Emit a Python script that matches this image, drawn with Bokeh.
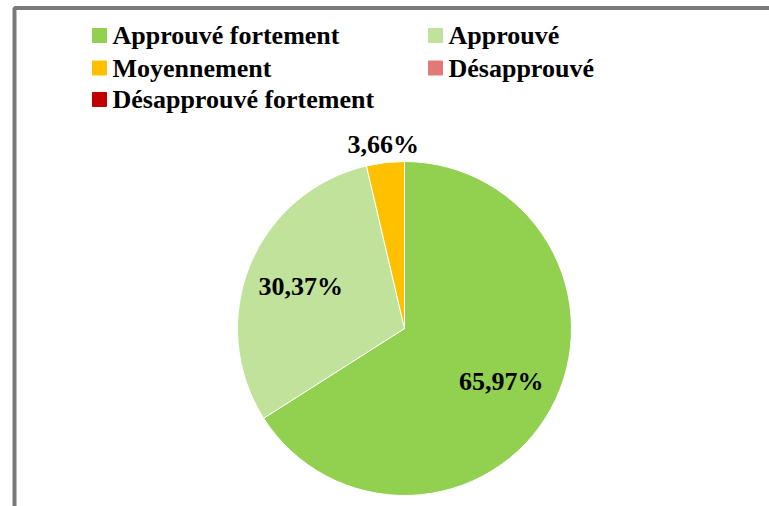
import math
from bokeh.plotting import figure
from bokeh.models import Range1d, ColumnDataSource
from bokeh.core.properties import value
from bokeh.embed import file_html
from bokeh.resources import INLINE

categories = ["Approuvé fortement", "Approuvé", "Moyennement", "Désapprouvé", "Désapprouvé fortement"]
values = [65.97, 30.37, 3.66, 0.0, 0.0]
labels = ["65,97%", "30,37%", "3,66%", "", ""]
colors = ["#92D050", "#C0E29B", "#FFC000", "#E07A7A", "#C00000"]

W, H = 769, 506
p = figure(width=W, height=H, output_backend="svg", toolbar_location=None,
           x_range=Range1d(0, W), y_range=Range1d(0, H), min_border=0)
p.axis.visible = False
p.grid.visible = False
p.outline_line_color = None
p.background_fill_color = "white"
p.border_fill_color = "white"

def py(y):
    return H - y

# frame (partially visible, as in reference)
p.line(x=[14, 14, W + 20], y=[-20, py(7.5), py(7.5)], line_color="#7A7A7A", line_width=4)

cx, cy, r = 404, py(328), 167
total = sum(values)
starts, ends, lx, ly, wc, lab = [], [], [], [], [], []
label_r = [0.66, 0.67, 1.11, 1.1, 1.1]
cum = 0.0
for v, lr, c, t in zip(values, label_r, colors, labels):
    a0 = math.pi / 2 - 2 * math.pi * cum / total
    cum += v
    a1 = math.pi / 2 - 2 * math.pi * cum / total
    if v <= 0:
        continue
    starts.append(a1)
    ends.append(a0)
    wc.append(c)
    lab.append(t)
    am = (a0 + a1) / 2
    lx.append(cx + lr * r * math.cos(am))
    ly.append(cy + lr * r * math.sin(am))

src = ColumnDataSource(dict(start=starts, end=ends, color=wc, lx=lx, ly=ly, label=lab))
p.wedge(x=cx, y=cy, radius=r, start_angle="start", end_angle="end", color="color",
        line_color="white", line_width=1, source=src)
p.text(x="lx", y="ly", text="label", source=src, text_align="center", text_baseline="middle",
       text_font=value("Liberation Serif"), text_font_style="bold", text_font_size="26px",
       text_color="black")

# legend
col_x = [92, 428]
row_y = [35, 67.5, 99]
sx, sy, tx, ty = [], [], [], []
for i, c in enumerate(categories):
    x = col_x[i % 2]
    y = py(row_y[i // 2])
    sx.append(x + 7)
    sy.append(y)
    tx.append(x + 20)
    ty.append(y)
leg = ColumnDataSource(dict(sx=sx, sy=sy, tx=tx, ty=ty, color=colors, name=categories))
p.rect(x="sx", y="sy", width=14, height=14, color="color", source=leg)
p.text(x="tx", y="ty", text="name", source=leg, text_align="left", text_baseline="middle",
       text_font=value("Liberation Serif"), text_font_style="bold", text_font_size="26px",
       text_color="black")

open("out.html", "w").write(file_html(p, INLINE))
